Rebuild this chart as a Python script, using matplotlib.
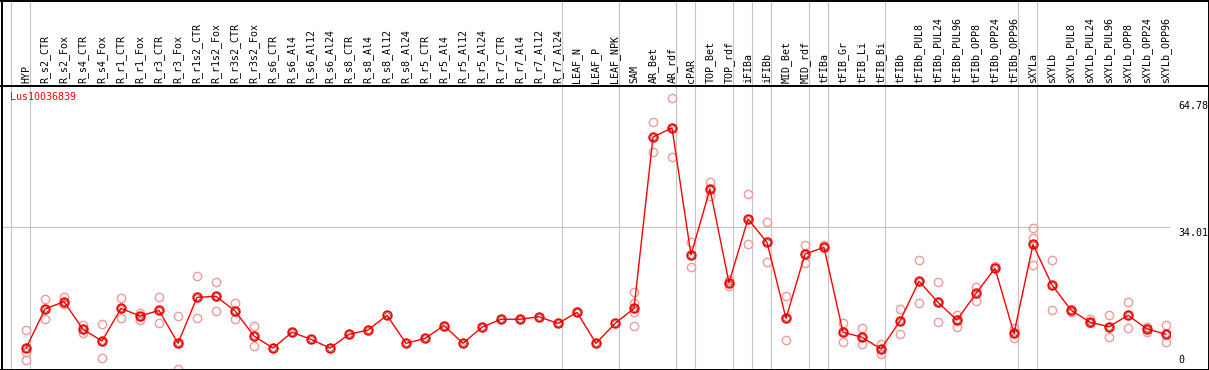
import numpy as np
import matplotlib
matplotlib.use("Agg")
import matplotlib.pyplot as plt
from matplotlib.lines import Line2D

# 样本名称
samples = ["HYP", "R_s2_CTR", "R_s2_Fox", "R_s4_CTR", "R_s4_Fox", "R_r1_CTR", "R_r1_Fox",
           "R_r3_CTR", "R_r3_Fox", "R_r1s2_CTR", "R_r1s2_Fox", "R_r3s2_CTR", "R_r3s2_Fox",
           "R_s6_CTR", "R_s6_Al4", "R_s6_Al12", "R_s6_Al24", "R_s8_CTR", "R_s8_Al4",
           "R_s8_Al12", "R_s8_Al24", "R_r5_CTR", "R_r5_Al4", "R_r5_Al12", "R_r5_Al24",
           "R_r7_CTR", "R_r7_Al4", "R_r7_Al12", "R_r7_Al24", "LEAF_N", "LEAF_P", "LEAF_NPK",
           "SAM", "AR_Bet", "AR_rdf", "cPAR", "TOP_Bet", "TOP_rdf", "iFIBa", "iFIBb",
           "MID_Bet", "MID_rdf", "tFIBa", "tFIB_Gr", "tFIB_Li", "tFIB_Bi", "tFIBb",
           "tFIBb_PUL8", "tFIBb_PUL24", "tFIBb_PUL96", "tFIBb_OPP8", "tFIBb_OPP24",
           "tFIBb_OPP96", "sXYLa", "sXYLb", "sXYLb_PUL8", "sXYLb_PUL24", "sXYLb_PUL96",
           "sXYLb_OPP8", "sXYLb_OPP24", "sXYLb_OPP96"]

# 平均表达量
means = [4.95, 14.36, 16.1, 9.5, 6.7, 14.5, 12.7, 14.0, 6.15, 17.15, 17.4, 13.9, 7.9,
         5.0, 8.8, 7.1, 5.0, 8.3, 9.33, 12.85, 6.15, 7.3, 10.4, 6.15, 10.0, 11.9, 11.9,
         12.5, 10.9, 13.55, 6.15, 10.9, 14.5, 55.5, 57.7, 27.3, 43.1, 20.65, 35.9, 30.3,
         12.1, 27.5, 29.1, 8.8, 7.6, 4.8, 11.5, 21.0, 15.95, 11.7, 18.1, 24.1, 8.5,
         29.8, 20.1, 14.1, 11.2, 10.1, 12.85, 9.6, 8.3]

# 重复样本
reps = [[9.33, 4.15, 2.15], [16.7, 11.9], [17.3, 15.6], [10.5, 8.5], [10.7, 2.55],
        [16.9, 12.1], [13.5, 11.7], [17.2, 10.9], [12.6, 0.0], [22.25, 12.1],
        [20.7, 13.8], [15.7, 11.9], [10.2, 5.5], [], [], [], [], [], [], [], [], [],
        [], [], [], [], [], [], [], [], [], [], [18.4, 15.9, 13.7, 10.4], [59.0, 51.85],
        [64.78, 50.7], [30.5, 24.3], [44.7, 41.5], [21.3, 19.9], [41.8, 29.8],
        [35.1, 25.5], [17.4, 6.9], [29.6, 25.3], [29.7], [10.9, 6.4], [9.7, 5.9],
        [5.9, 3.5], [14.3, 8.3], [26.0, 15.7], [20.7, 11.2], [12.9, 10.1], [19.7, 16.3],
        [24.7], [9.7, 7.3], [33.7, 31.3, 24.9], [26.0, 14.1], [13.7], [12.0, 10.9],
        [12.9, 7.7], [15.95, 9.7], [10.1, 8.9], [10.5, 6.4]]

# 分组分隔线（在该样本之后）
group_ends = [-1, 0, 28, 31, 34, 35, 37, 38, 39, 41, 42, 45, 52, 53, 60]

ymax = 64.78
ymid = 34.01
title = "Lus10036839"

W, H = 1209, 370
fig = plt.figure(figsize=(W / 100, H / 100), dpi=100)
font = "DejaVu Sans Mono"

head_px = 86
x0 = (1 - 26) / 19.0
x1 = (1170 - 26) / 19.0
left = 1 / W
width = 1169 / W

ax = fig.add_axes([left, 0, width, (H - head_px) / H])
hx = fig.add_axes([left, (H - head_px) / H, width, head_px / H], sharex=ax)

scale = (369 - 98.3) / ymax
ax.set_ylim((369 - 370) / scale, (369 - head_px) / scale)
ax.set_xlim(x0, x1)
hx.set_ylim(0, 1)
ax.axis("off")
hx.axis("off")

x = np.arange(len(samples))

# 分隔线
for b in group_ends:
    ax.axvline(b + 4 / 19.0, color="#c4c4c4", lw=0.8, zorder=1)
    hx.axvline(b + 4 / 19.0, color="#c4c4c4", lw=0.8, zorder=1)
ax.axhline(ymid, color="#c4c4c4", lw=0.8, zorder=1)

# 重复点
for i, r in enumerate(reps):
    if len(r):
        ax.plot([x[i]] * len(r), r, "o", ms=6, mfc="none", mec="#f09a9a", mew=1.0, zorder=2)

# 平均值折线
ax.plot(x, means, "-", color="red", lw=1.0, zorder=3)
ax.plot(x, means, "o", ms=6.2, mfc="none", mec="red", mew=1.3, zorder=4)
ax.plot(x, means, "o", ms=4.0, mfc="none", mec="#700000", mew=0.4, zorder=5)

# 表头
for i, s in enumerate(samples):
    hx.text(x[i], 0.03, s, rotation=90, ha="center", va="bottom", family=font,
            fontsize=7.2, color="black")

# 右侧刻度
for v, va, dy in [(ymax, "top", -3), (ymid, "top", -1), (0, "bottom", 4)]:
    ax.annotate(("%.2f" % v) if v else "0", xy=(1, v), xycoords=("axes fraction", "data"),
                xytext=(8, dy), textcoords="offset pixels", ha="left", va=va,
                family=font, fontsize=7.2, color="black", annotation_clip=False)

fig.text(10 / W, 1 - 97 / H, title, color="red", family=font, fontsize=7.2,
         ha="left", va="center")

# 边框
def hline(yp, x_a, x_b):
    fig.add_artist(Line2D([x_a / W, x_b / W], [1 - yp / H, 1 - yp / H], color="black", lw=1.4))

def vline(xp, y_a, y_b):
    fig.add_artist(Line2D([xp / W, xp / W], [1 - y_a / H, 1 - y_b / H], color="black", lw=1.4))

hline(0.5, 1, 1209)
hline(85.5, 0, 1209)
hline(369.5, 1, 1209)
vline(1.5, 0, 370)
vline(1208.5, 0, 370)

fig.savefig("out.png", dpi=100)
plt.close()
